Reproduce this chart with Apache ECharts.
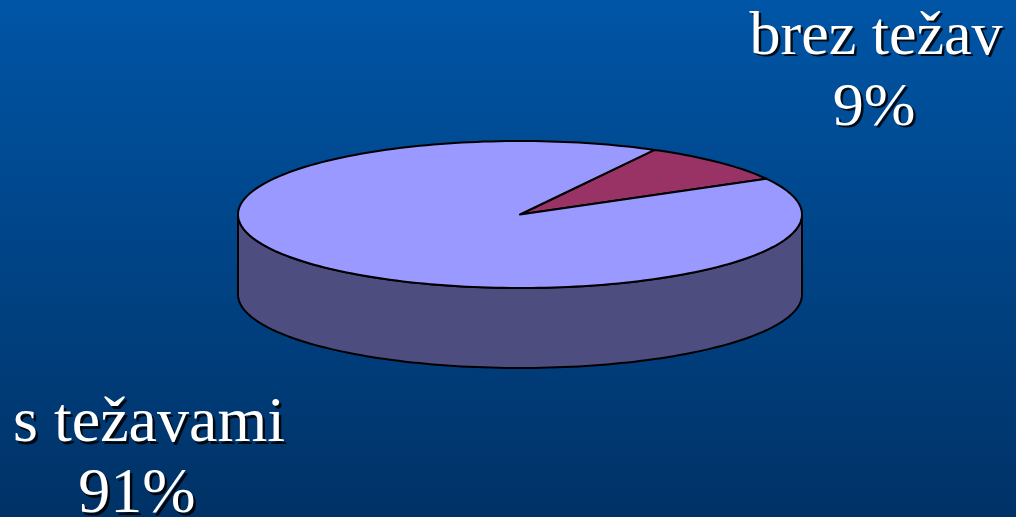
<!DOCTYPE html>
<html>
<head>
<meta charset="utf-8">
<title>Pie</title>
<script src="https://cdn.jsdelivr.net/npm/echarts@6/dist/echarts.min.js"></script>
<style>
  html, body { margin: 0; padding: 0; }
  #chart { width: 1016px; height: 517px; }
</style>
</head>
<body>
<div id="chart"></div>
<script>
// Categories and their shares (percent)
const categories = ['brez težav', 's težavami'];
const shares = [9, 91];

// Slice styling
const topColors = ['#993366', '#9999ff'];
const sideColors = ['#5c2645', '#4d4d80'];

const total = shares.reduce((a, b) => a + b, 0);
const START_ANGLE = 61.5; // degrees, counter-clockwise from east; slices run clockwise

// Label layout: centre of the name line and of the percentage line, font size
const nameAnchors = [[876, 37.5], [149, 424.5]];
const pctAnchors = [[874, 108.5], [137, 495.5]];
const labelFontSizes = [62, 64];

function arcPoints(cx, cy, rx, ry, from, to, steps) {
  const pts = [];
  for (let k = 0; k <= steps; k++) {
    const a = (from + (to - from) * k / steps) * Math.PI / 180;
    pts.push([cx + rx * Math.cos(a), cy - ry * Math.sin(a)]);
  }
  return pts;
}

function shadowedText(children, text, x, y, size) {
  const font = size + 'px "Liberation Serif", "Times New Roman", serif';
  const off = 2.5;
  children.push({
    type: 'text', x: x + off, y: y + off,
    style: { text: text, fill: 'rgba(0,0,0,0.85)', font: font, align: 'center', verticalAlign: 'middle' }
  });
  children.push({
    type: 'text', x: x, y: y,
    style: { text: text, fill: '#ffffff', font: font, align: 'center', verticalAlign: 'middle' }
  });
}

function renderItem(params, api) {
  const i = params.dataIndex;
  const w = api.getWidth(), h = api.getHeight();
  const sx = w / 1016, sy = h / 517;
  const cx = 520 * sx, cy = 214.5 * sy, rx = 282 * sx, ry = 73.5 * sy, depth = 80 * sy;

  const v = api.value(0);
  let before = 0;
  for (let j = 0; j < i; j++) before += shares[j];
  const a0 = START_ANGLE - 360 * before / total;
  const a1 = a0 - 360 * v / total;

  const children = [];

  // Visible side wall: parts of the slice lying on the front half of the ellipse
  for (let k = -2; k <= 1; k++) {
    const lo = Math.max(a1, 180 + 360 * k);
    const hi = Math.min(a0, 360 + 360 * k);
    if (hi > lo) {
      const steps = Math.max(8, Math.ceil((hi - lo) / 1.5));
      const topArc = arcPoints(cx, cy, rx, ry, lo, hi, steps);
      const botArc = arcPoints(cx, cy + depth, rx, ry, hi, lo, steps);
      children.push({
        type: 'polygon',
        shape: { points: topArc.concat(botArc) },
        style: { fill: sideColors[i], stroke: '#000', lineWidth: 2, lineJoin: 'round' }
      });
    }
  }

  // Top face of the slice
  const steps = Math.max(8, Math.ceil((a0 - a1) / 1.5));
  const top = [[cx, cy]].concat(arcPoints(cx, cy, rx, ry, a0, a1, steps));
  children.push({
    type: 'polygon',
    shape: { points: top },
    style: { fill: topColors[i], stroke: '#000', lineWidth: 2, lineJoin: 'round' }
  });

  // Label: name and percentage
  const pct = Math.round(100 * v / total);
  shadowedText(children, categories[i], nameAnchors[i][0] * sx, nameAnchors[i][1] * sy, labelFontSizes[i]);
  shadowedText(children, pct + '%', pctAnchors[i][0] * sx, pctAnchors[i][1] * sy, labelFontSizes[i]);

  return { type: 'group', children: children };
}

const chart = echarts.init(document.getElementById('chart'));
chart.setOption({
  animation: false,
  backgroundColor: {
    type: 'linear', x: 0, y: 0, x2: 0, y2: 1,
    colorStops: [
      { offset: 0, color: '#0055a6' },
      { offset: 1, color: '#003266' }
    ]
  },
  series: [{
    type: 'custom',
    coordinateSystem: 'none',
    renderItem: renderItem,
    data: categories.map((c, i) => ({ name: c, value: shares[i] }))
  }]
});
</script>
</body>
</html>
